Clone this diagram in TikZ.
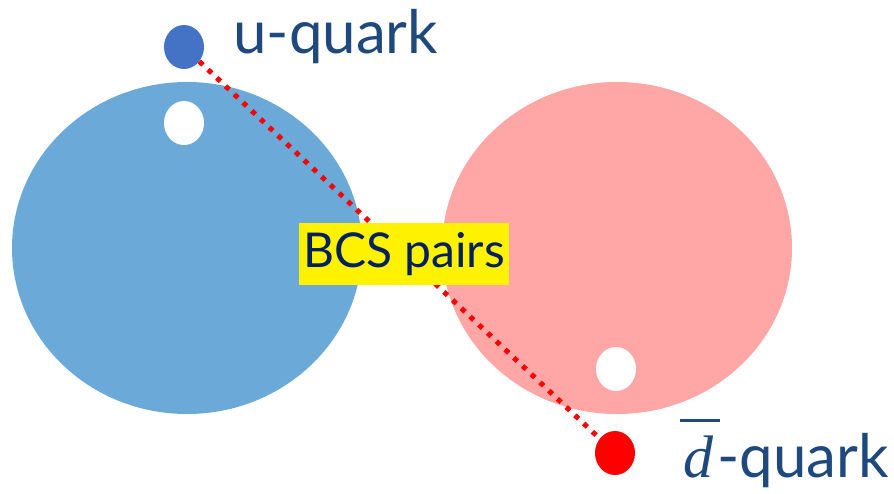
\documentclass[tikz,border=0pt]{standalone}
\usepackage{fontspec}
\setmainfont{Lato}
\newfontfamily\dfont{Liberation Serif}
\usepackage{tikz}
\usetikzlibrary{positioning,shapes.geometric}
\definecolor{cellblue}{RGB}{107,170,216}
\definecolor{cellpink}{RGB}{255,166,166}
\definecolor{ublue}{RGB}{68,114,196}
\definecolor{quarktext}{RGB}{31,73,125}
\definecolor{bcsnavy}{RGB}{0,32,96}
\newcommand{\dbar}{\rlap{\raisebox{55pt}{\rule{40pt}{3.5pt}}}\hspace*{3pt}{\dfont\itshape d}\hspace*{4pt}}
\begin{document}
\begin{tikzpicture}[x=1pt,y=-1pt,
  blob/.style={ellipse,inner sep=0pt,minimum width=350pt,minimum height=332pt},
  dot/.style={ellipse,inner sep=0pt,minimum width=40pt,minimum height=44pt},
  lbl/.style={text=quarktext,font=\fontsize{60}{60}\selectfont,inner sep=0pt}]
\useasboundingbox (0,0) rectangle (894,493);
% the two blobs
\node[blob,fill=cellblue] (left) at (187,248) {};
\node[blob,fill=cellpink] (right) at (617,248) {};
% holes left behind
\node[dot,fill=white] (holeu) at (184,123) {};
\node[dot,fill=white] (holed) at (616,369) {};
% quarks and the pair line
\node[dot,fill=ublue] (u) at (184,47) {};
\node[dot,fill=red] (d) at (615,453) {};
\draw[red,line width=5pt,dash pattern=on 5pt off 7pt] (u) -- (d);
\node[lbl,anchor=base west] (ulab) at (233,53) {u-quark};
\node[lbl,anchor=base west] (dlab) at (680,477) {\dbar-quark};
\node[fill=yellow,text=bcsnavy,font=\fontsize{48}{48}\selectfont,minimum width=210pt,minimum height=62pt,inner sep=0pt] (bcs) at (404,254) {BCS pairs};
\end{tikzpicture}
\end{document}
